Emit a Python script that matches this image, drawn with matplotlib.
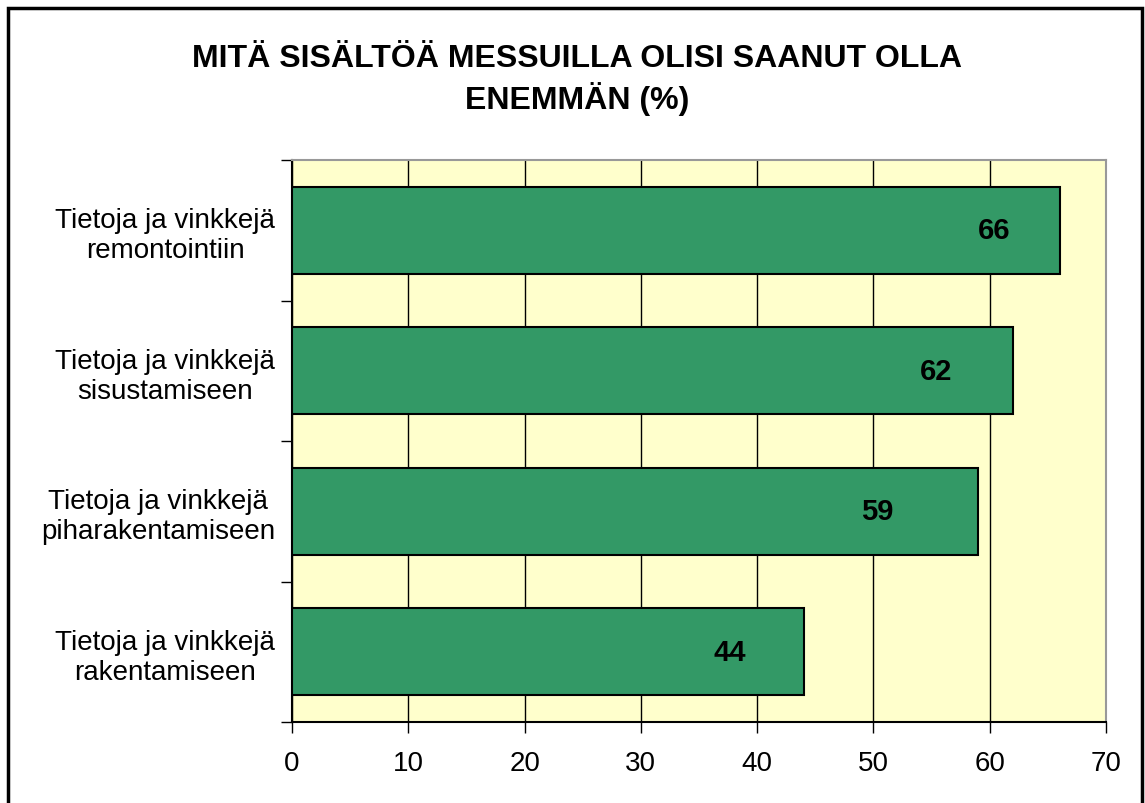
import matplotlib.pyplot as plt
from matplotlib.patches import Rectangle

# data
categories = ['Tietoja ja vinkkejä\nremontointiin',
              'Tietoja ja vinkkejä\nsisustamiseen',
              'Tietoja ja vinkkejä\npiharakentamiseen',
              'Tietoja ja vinkkejä\nrakentamiseen']
values = [66, 62, 59, 44]
xticks = [0, 10, 20, 30, 40, 50, 60, 70]
title = 'MITÄ SISÄLTÖÄ MESSUILLA OLISI SAANUT OLLA\nENEMMÄN (%)'

# how far left of the bar end each value label sits (x units)
label_shift = [5.6, 6.6, 8.7, 6.4]

plt.rcParams['font.family'] = ['Liberation Sans', 'DejaVu Sans']

fig = plt.figure(figsize=(11.45, 8.04), dpi=100)
ax = fig.add_axes([0.255, 0.1007, 0.711, 0.699])

pos = list(range(len(values)))[::-1]
ax.barh(pos, values, height=0.62, color='#339966', edgecolor='black',
        linewidth=1.5, zorder=3)
for p, v, s in zip(pos, values, label_shift):
    ax.text(v - s, p, str(v), ha='center', va='center',
            fontsize=21, fontweight='bold', zorder=4)

ax.set_facecolor('#FFFFCC')
ax.set_xlim(0, 70)
ax.set_ylim(-0.5, len(values) - 0.5)
ax.set_xticks(xticks)
ax.set_xticklabels([str(t) for t in xticks], fontsize=20)
ax.grid(axis='x', color='black', linewidth=1, zorder=1)

ax.set_yticks(pos)
ax.set_yticklabels(categories, fontsize=20, multialignment='center',
                   linespacing=1.2)
ax.tick_params(axis='y', length=0, pad=12)
ax.set_yticks([i - 0.5 for i in range(len(values) + 1)], minor=True)
ax.tick_params(axis='y', which='minor', length=8, width=1, direction='out')
ax.tick_params(axis='x', length=8, width=1, direction='out', pad=12)

ax.spines['left'].set_linewidth(1.5)
ax.spines['bottom'].set_linewidth(1.5)
ax.spines['top'].set_color('#999999')
ax.spines['right'].set_color('#999999')
ax.spines['top'].set_linewidth(1.5)
ax.spines['right'].set_linewidth(1.5)

fig.text(0.504, 0.901, title, ha='center', va='center', fontsize=23,
         fontweight='bold', linespacing=1.3)

fig.patches.append(Rectangle((8 / 1145, -0.05), 1134 / 1145, 1.05 - 9 / 804,
                             transform=fig.transFigure, fill=False,
                             edgecolor='black', linewidth=2.5))

fig.savefig('out.png', dpi=100)
